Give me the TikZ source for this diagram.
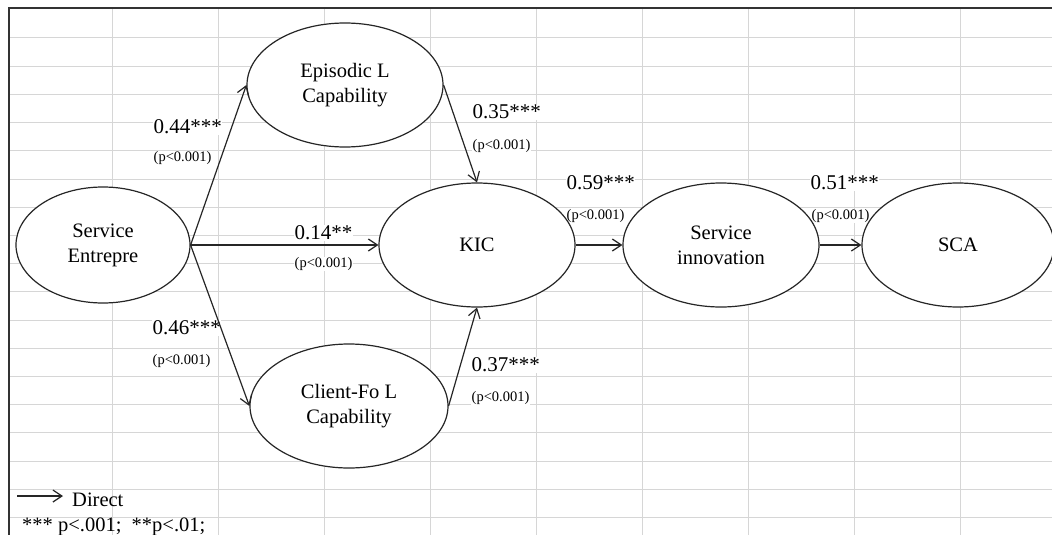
\documentclass[tikz,border=0pt]{standalone}
\usepackage{fontspec}
\setmainfont{Liberation Serif}
\usetikzlibrary{shapes.geometric,arrows.meta}
\begin{document}
\begin{tikzpicture}[x=1pt,y=-1pt,
  gridline/.style={draw=black!16,line width=1pt},
  frameline/.style={draw=black!80,line width=1.8pt},
  latent/.style={ellipse,draw=black!85,line width=1.2pt,fill=white,inner sep=0pt,align=center,
    font=\fontsize{20.5}{25}\selectfont},
  path/.style={draw=black!85,line width=1.2pt,-{Straight Barb[length=9pt,width=12pt]}},
  coef/.style={anchor=west,inner sep=0.5pt,fill=white,font=\fontsize{21}{24}\selectfont},
  pval/.style={anchor=west,inner sep=0.5pt,fill=white,font=\fontsize{14.5}{16}\selectfont},
  legend/.style={anchor=west,inner sep=0pt,font=\fontsize{20.5}{24}\selectfont}]
\useasboundingbox (0,0) rectangle (1052,535);
\fill[white] (0,0) rectangle (1052,535);
% spreadsheet grid
\foreach \k in {0,...,8} {
  \draw[gridline] ({112+106.1*\k},8) -- ({112+106.1*\k},535);
}
\foreach \k in {0,...,17} {
  \draw[gridline] (9,{38+28.2*\k}) -- (1052,{38+28.2*\k});
}
\draw[frameline] (9,535) -- (9,8) -- (1052,8);
% coefficients (drawn before the paths so that the paths stay visible)
\node[coef] (c1) at (153,127) {0.44***};
\node[pval] (p1) at (153,158) {(p<0.001)};
\node[coef] (c2) at (294,233) {0.14**};
\node[pval] (p2) at (294,264) {(p<0.001)};
\node[coef] (c3) at (152,328) {0.46***};
\node[pval] (p3) at (152,361) {(p<0.001)};
\node[coef] (c4) at (472,112) {0.35***};
\node[pval] (p4) at (472,146) {(p<0.001)};
\node[coef] (c5) at (471,365) {0.37***};
\node[pval] (p5) at (471,398) {(p<0.001)};
\node[coef] (c6) at (566,183) {0.59***};
\node[pval] (p6) at (566,216) {(p<0.001)};
\node[coef] (c7) at (810,183) {0.51***};
\node[pval] (p7) at (811,216) {(p<0.001)};
% latent variables
\node[latent,minimum width=174pt,minimum height=116pt] (se) at (103,245) {Service\\Entrepre};
\node[latent,minimum width=196pt,minimum height=124pt] (ep) at (345,85) {Episodic L\\Capability};
\node[latent,minimum width=196pt,minimum height=124pt] (kic) at (477,245) {KIC};
\node[latent,minimum width=198pt,minimum height=124pt] (cf) at (349,406) {Client-Fo L\\Capability};
\node[latent,minimum width=196pt,minimum height=124pt] (si) at (721,245) {Service\\innovation};
\node[latent,minimum width=192pt,minimum height=124pt] (sca) at (958,245) {SCA};
% paths
\draw[path] (se.east) -- (ep.west);
\draw[path] (se.east) -- (kic.west);
\draw[path] (se.east) -- (cf.west);
\draw[path] (ep.east) -- (kic.north);
\draw[path] (cf.east) -- (kic.south);
\draw[path] (kic.east) -- (si.west);
\draw[path] (si.east) -- (sca.west);
% legend
\coordinate (la) at (17,496);
\coordinate (lb) at (63,496);
\draw[path] (la) -- (lb);
\node[legend] (ld) at (72,500) {Direct};
\node[legend] (ls) at (22,527) {*** p<.001;\ \ **p<.01;};
\end{tikzpicture}
\end{document}
